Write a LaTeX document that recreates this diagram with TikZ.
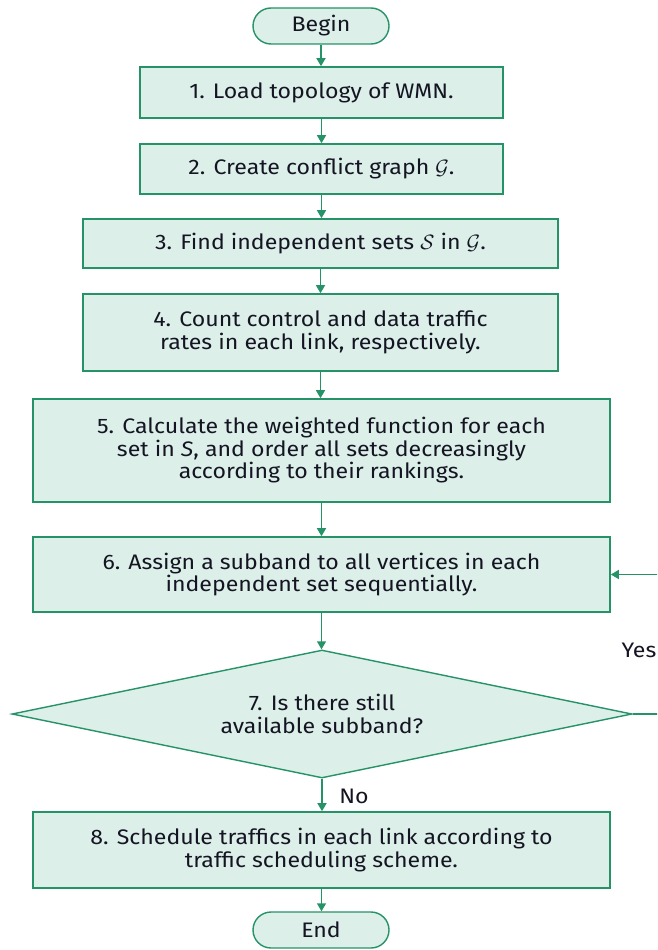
\documentclass[tikz,border=0pt]{standalone}
\usepackage{fontspec}
\setmainfont{Fira Sans}[FakeStretch=1.1]
\usetikzlibrary{shapes.geometric,shapes.misc,arrows.meta}
\definecolor{flowgreen}{RGB}{38,146,104}
\definecolor{flowfill}{RGB}{220,239,232}
\definecolor{flowtext}{RGB}{20,20,35}

\begin{document}
\begin{tikzpicture}[x=1pt,y=-1pt,
  every node/.style={font=\fontsize{21}{22.5}\selectfont, text=flowtext, align=center},
  proc/.style={draw=flowgreen, fill=flowfill, line width=1.6pt, rectangle, inner sep=0pt},
  term/.style={draw=flowgreen, fill=flowfill, line width=1.4pt, rounded rectangle,
    inner sep=0pt, minimum width=136pt, minimum height=36pt},
  decision/.style={draw=flowgreen, fill=flowfill, line width=1.4pt, diamond, aspect=4.84,
    inner sep=0pt, minimum width=620pt, minimum height=128pt},
  flow/.style={draw=flowgreen, line width=1.4pt, -{Triangle[length=8pt,width=9pt]}}]

\clip (0,0) rectangle (657,950);

% terminals
\node[term] (begin) at (321,26) {Begin};
\node[term] (end) at (321,930) {End};

% process steps
\node[proc, minimum width=363pt, minimum height=51pt] (b1) at (321.5,92.5)
  {1. Load topology of WMN.};
\node[proc, minimum width=363pt, minimum height=50pt] (b2) at (321.5,169)
  {2. Create conflict graph $\mathcal{G}$.};
\node[proc, minimum width=475pt, minimum height=49pt] (b3) at (320.5,243.5)
  {3. Find independent sets $\mathcal{S}$ in $\mathcal{G}$.};
\node[proc, minimum width=475pt, minimum height=77pt] (b4) at (320.5,332.5)
  {4. Count control and data traffic\\rates in each link, respectively.};
\node[proc, minimum width=577pt, minimum height=103pt] (b5) at (321.5,450.5)
  {5. Calculate the weighted function for each\\set in \textit{S}, and order all sets decreasingly\\according to their rankings.};
\node[proc, minimum width=577pt, minimum height=75pt] (b6) at (321.5,574.5)
  {6. Assign a subband to all vertices in each\\independent set sequentially.};
\node[decision] (dia) at (322,714)
  {7. Is there still\\available subband?};
\node[proc, minimum width=577pt, minimum height=76pt] (b8) at (321.5,850)
  {8. Schedule traffics in each link according to\\traffic scheduling scheme.};

% branch labels
\node (yes) at (639,650) {Yes};
\node (no) at (354,796) {No};

% loop-back line runs past the right edge
\coordinate (loop) at (662,714);

% connectors
\draw[flow] (begin.south) -- (begin.south |- b1.north);
\draw[flow] (b1.south) -- (b1.south |- b2.north);
\draw[flow] (b2.south) -- (b2.south |- b3.north);
\draw[flow] (b3.south) -- (b3.south |- b4.north);
\draw[flow] (b4.south) -- (b4.south |- b5.north);
\draw[flow] (b5.south) -- (b5.south |- b6.north);
\draw[flow] (b6.south) -- (b6.south |- dia.north);
\draw[flow] (dia.south) -- (dia.south |- b8.north);
\draw[flow] (b8.south) -- (b8.south |- end.north);
\draw[flow] (dia.east) -- (loop) |- (b6.east);
\end{tikzpicture}
\end{document}
